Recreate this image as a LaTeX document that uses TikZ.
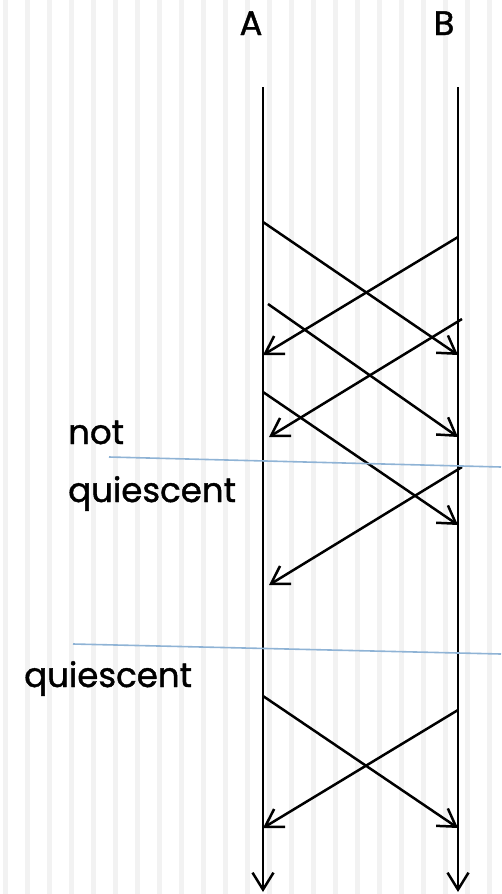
\documentclass[tikz,border=0pt]{standalone}
\usepackage{fontspec}
\setmainfont{Poppins}[FakeBold=1.2]
\usetikzlibrary{arrows.meta}
\definecolor{stripe}{HTML}{F2F2F2}
\definecolor{cutline}{HTML}{8FB3D5}
\begin{document}
\begin{tikzpicture}[x=1pt,y=-1pt,every node/.style={font=\fontsize{34}{34}\selectfont,inner sep=0pt},
  msg/.style={line width=2.5pt,-{Straight Barb[length=17pt,width=21pt,line width=2.5pt]}},
  cut/.style={cutline,line width=1.6pt}]
\useasboundingbox (0,0) rectangle (501,894);
\foreach \k in {0,...,22}
  \fill[stripe] (3+22*\k,0) rectangle (8+22*\k,894);
% process labels
\node[anchor=base] (A) at (251,35) {A};
\node[anchor=base] (B) at (444,35) {B};
\node[anchor=base west] (t1) at (68,444) {not};
\node[anchor=base west] (t2) at (68,502) {quiescent};
\node[anchor=base west] (t3) at (24,687) {quiescent};
% lifelines
\coordinate (a0) at (263,87);
\coordinate (a9) at (263,892);
\coordinate (b0) at (458,87);
\coordinate (b9) at (458,892);
\draw[msg] (a0)--(a9);
\draw[msg] (b0)--(b9);
% message end points
\coordinate (a1) at (263,222);
\coordinate (b1) at (458,237);
\coordinate (a2) at (268,304);
\coordinate (b2) at (462,319);
\coordinate (a3) at (263,355);
\coordinate (b3) at (458,355);
\coordinate (a4) at (269,437);
\coordinate (b4) at (458,437);
\coordinate (a5) at (263,392);
\coordinate (b5) at (462,467);
\coordinate (b6) at (458,525);
\coordinate (a6) at (269,585);
\coordinate (a7) at (263,696);
\coordinate (b7) at (458,710);
\coordinate (a8) at (263,828);
\coordinate (b8) at (458,828);
\foreach \a/\b in {a1/b3,b1/a3,a2/b4,b2/a4,a5/b6,b5/a6,a7/b8,b7/a8}
  \draw[msg] (\a)--(\b);
% cuts
\coordinate (c1) at (109,457);
\coordinate (c2) at (501,467);
\coordinate (c3) at (73,644);
\coordinate (c4) at (501,654);
\draw[cut] (c1)--(c2);
\draw[cut] (c3)--(c4);
\end{tikzpicture}
\end{document}
